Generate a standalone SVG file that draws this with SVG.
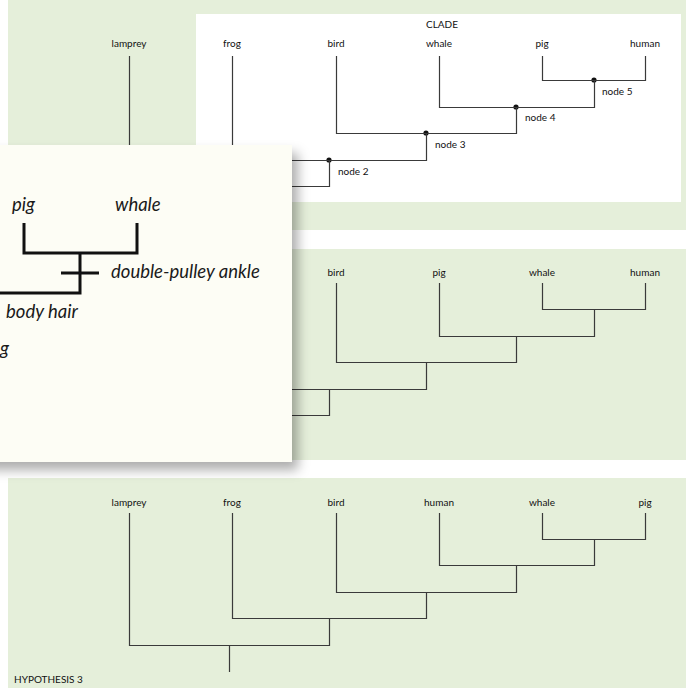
<svg xmlns="http://www.w3.org/2000/svg" width="686" height="688" viewBox="0 0 686 688">
  <defs>
    <style>
      .panel { fill: #e5efda; }
      .leaf { font-family: Lato, "Liberation Sans", sans-serif; font-size: 10px; fill: #111; text-anchor: middle; }
      .nlab { font-family: Lato, "Liberation Sans", sans-serif; font-size: 10px; fill: #111; }
      .title { font-family: Lato, "Liberation Sans", sans-serif; font-size: 10px; fill: #111; }
      .edge { fill: none; stroke: #3a3a3a; stroke-width: 1.2; }
      .dot { fill: #111; }
      .card { fill: #fdfdf5; }
      .cardtxt { font-family: Lato, "Open Sans", "Liberation Sans", sans-serif; font-style: italic; font-size: 18.5px; fill: #1a1a1a; }
      .thick { fill: none; stroke: #111; stroke-width: 3; }
    </style>
    <filter id="shadow" x="-20%" y="-20%" width="150%" height="150%">
      <feDropShadow dx="6" dy="8" stdDeviation="6" flood-color="#000" flood-opacity="0.32"/>
    </filter>
  </defs>

  <rect width="686" height="688" fill="#ffffff"/>

  <!-- panel backgrounds -->
  <rect class="panel" x="8" y="0" width="678" height="230"/>
  <rect x="196" y="14" width="485" height="188" fill="#ffffff"/>
  <rect class="panel" x="8" y="249" width="678" height="211"/>
  <rect class="panel" x="8" y="478" width="678" height="210"/>

  <!-- panel 1 -->
  <text class="title" x="426" y="28">CLADE</text>
  <g id="p1-lamprey"><text class="leaf" x="129" y="47">lamprey</text></g>
  <g id="p1-frog"><text class="leaf" x="232" y="47">frog</text></g>
  <g id="p1-bird"><text class="leaf" x="336" y="47">bird</text></g>
  <g id="p1-whale"><text class="leaf" x="439" y="47">whale</text></g>
  <g id="p1-pig"><text class="leaf" x="542" y="47">pig</text></g>
  <g id="p1-human"><text class="leaf" x="645" y="47">human</text></g>
  <g id="p1-node5"><circle class="dot" cx="594" cy="80" r="2.6"/><text class="nlab" x="602" y="95">node 5</text></g>
  <g id="p1-node4"><circle class="dot" cx="516" cy="107" r="2.6"/><text class="nlab" x="525" y="121">node 4</text></g>
  <g id="p1-node3"><circle class="dot" cx="426" cy="133" r="2.6"/><text class="nlab" x="435" y="148">node 3</text></g>
  <g id="p1-node2"><circle class="dot" cx="329" cy="160" r="2.6"/><text class="nlab" x="338" y="175">node 2</text></g>

  <!-- panel 2 -->
  <g id="p2-bird"><text class="leaf" x="336" y="276">bird</text></g>
  <g id="p2-pig"><text class="leaf" x="439" y="276">pig</text></g>
  <g id="p2-whale"><text class="leaf" x="542" y="276">whale</text></g>
  <g id="p2-human"><text class="leaf" x="645" y="276">human</text></g>

  <!-- panel 3 -->
  <text class="title" x="14" y="683">HYPOTHESIS 3</text>
  <g id="p3-lamprey"><text class="leaf" x="129" y="506">lamprey</text></g>
  <g id="p3-frog"><text class="leaf" x="232" y="506">frog</text></g>
  <g id="p3-bird"><text class="leaf" x="336" y="506">bird</text></g>
  <g id="p3-human"><text class="leaf" x="439" y="506">human</text></g>
  <g id="p3-whale"><text class="leaf" x="542" y="506">whale</text></g>
  <g id="p3-pig"><text class="leaf" x="645" y="506">pig</text></g>

  <!-- connectors -->
  <g id="connectors">
    <!-- panel 1 -->
    <path class="edge" d="M542.5 56 V80.5 H645.5 V56"/>
    <path class="edge" d="M439.5 56 V107.5 H594.5 V80.5"/>
    <path class="edge" d="M336.5 56 V133.5 H516.5 V107.5"/>
    <path class="edge" d="M232.5 56 V160.5 H426.5 V133.5"/>
    <path class="edge" d="M129.5 56 V186.5 H329.5 V160.5"/>
    <path class="edge" d="M229.5 186.5 V212"/>
    <!-- panel 2 -->
    <path class="edge" d="M542.5 283 V309.5 H645.5 V283"/>
    <path class="edge" d="M439.5 283 V336.5 H594.5 V309.5"/>
    <path class="edge" d="M336.5 283 V362.5 H516.5 V336.5"/>
    <path class="edge" d="M232.5 300 V389.5 H426.5 V362.5"/>
    <path class="edge" d="M129.5 300 V415.5 H329.5 V389.5"/>
    <path class="edge" d="M229.5 415.5 V441"/>
    <!-- panel 3 -->
    <path class="edge" d="M542.5 513 V539.5 H645.5 V513"/>
    <path class="edge" d="M439.5 513 V565.5 H594.5 V539.5"/>
    <path class="edge" d="M336.5 513 V592.5 H516.5 V565.5"/>
    <path class="edge" d="M232.5 513 V618.5 H426.5 V592.5"/>
    <path class="edge" d="M129.5 513 V645.5 H329.5 V618.5"/>
    <path class="edge" d="M229.5 645.5 V672"/>
  </g>

  <!-- overlay card -->
  <g id="card">
    <rect class="card" x="-20" y="145" width="312" height="317" filter="url(#shadow)"/>
    <g id="card-pig"><text class="cardtxt" x="12" y="211">pig</text></g>
    <g id="card-whale"><text class="cardtxt" x="115" y="211">whale</text></g>
    <g id="card-frog"><text class="cardtxt" x="0" y="355">g</text></g>
    <g id="card-ankle"><text class="cardtxt" x="111" y="278">double-pulley ankle</text></g>
    <g id="card-hair"><text class="cardtxt" x="6" y="318">body hair</text></g>
    <g id="card-connectors">
      <path class="thick" d="M24 223 V253 H137 V223"/>
      <path class="thick" d="M80 253 V293 H-5"/>
      <path class="thick" d="M61 273 H99"/>
    </g>
  </g>
</svg>
